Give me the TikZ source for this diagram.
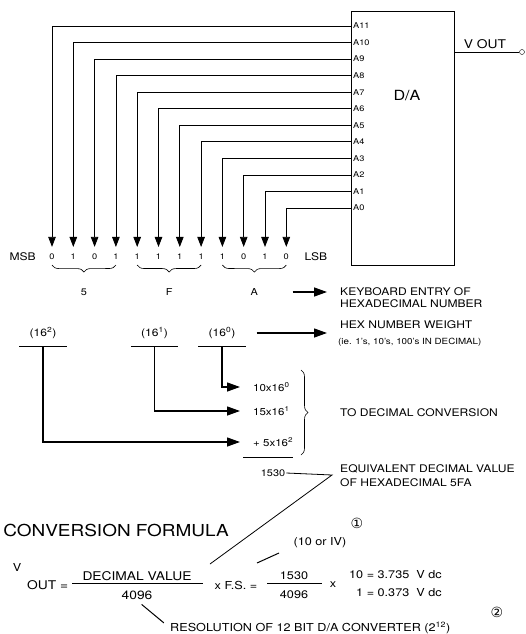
\documentclass[tikz,border=0pt]{standalone}
\usepackage{fontspec}
\setmainfont{TeX Gyre Heros}[FakeStretch=1.15]
\newfontfamily\circfont{DejaVu Sans}
\usetikzlibrary{arrows.meta, positioning, calc, decorations.pathreplacing}

\begin{document}
\begin{tikzpicture}[
    x=1pt, y=-1pt,
    font=\fontsize{10.5}{11.5}\selectfont,
    wire/.style={-{Triangle[length=10pt, width=7.5pt]}, line width=0.8pt, shorten >=6pt},
    arrow/.style={-{Triangle[length=13pt, width=9pt]}, line width=1.3pt},
    pinlbl/.style={anchor=west, inner sep=1pt, font=\fontsize{8}{9}\selectfont},
    bit/.style={inner sep=1pt, font=\fontsize{8}{9}\selectfont},
    txt/.style={anchor=west, inner sep=0pt, align=left},
    wt/.style={inner sep=0pt, minimum width=47pt, minimum height=26pt},
    term/.style={anchor=west, inner sep=0pt, font=\fontsize{10}{12}\selectfont},
    brc/.style={decorate, decoration={brace, amplitude=7pt}, line width=0.6pt},
    frm/.style={inner sep=1pt, font=\fontsize{11}{13}\selectfont},
    bar/.style={line width=0.9pt}
]
    \useasboundingbox (0,0) rectangle (526,634);

    \node[draw, line width=0.9pt, anchor=north west, minimum width=103pt, minimum height=254pt] (da) at (351,11) {};
    \node[font=\fontsize{14}{16}\selectfont] (dalbl) at (407,96) {D/A};
    \node[circle, draw, inner sep=0pt, minimum size=5pt] (vterm) at (522,52) {};
    \draw[line width=0.9pt] (da.east |- vterm) -- (vterm);
    \node[font=\fontsize{12}{14}\selectfont, inner sep=1pt] (vout) at (485,44) {V OUT};

    \foreach \i/\b in {11/0,10/1,9/0,8/1,7/1,6/1,5/1,4/1,3/1,2/0,1/1,0/0} {
        \pgfmathsetmacro{\xb}{52+(11-\i)*21.3}
        \pgfmathsetmacro{\yp}{26+(11-\i)*16.55}
        \node[bit] (b\i) at (\xb,257) {\b};
        \node[pinlbl] (a\i) at (352,\yp) {A\i};
        \draw[wire] (da.west |- a\i) -| (b\i.north);
    }

    \node[left=9pt of b11] (msb) {MSB};
    \node[right=11pt of b0] (lsb) {LSB};

    \draw[brc, decoration={mirror}] ([yshift=-4pt]b11.south) -- ([yshift=-4pt]b8.south);
    \draw[brc, decoration={mirror}] ([yshift=-4pt]b7.south) -- ([yshift=-4pt]b4.south);
    \draw[brc, decoration={mirror}] ([yshift=-4pt]b3.south) -- ([yshift=-4pt]b0.south);

    \node[font=\fontsize{9.5}{11}\selectfont] (h5) at ($(b11)!0.5!(b8)+(0,35)$) {5};
    \node[font=\fontsize{9.5}{11}\selectfont] (hF) at ($(b7)!0.5!(b4)+(0,35)$) {F};
    \node[font=\fontsize{9.5}{11}\selectfont] (hA) at ($(b3)!0.5!(b0)+(0,35)$) {A};

    \node[txt] (kbd) at (340,297.5) {KEYBOARD ENTRY OF\\HEXADECIMAL NUMBER};
    \draw[arrow, shorten <=31pt, shorten >=13pt] (hA) -- (hA -| kbd.west);

    \node[wt] (w2) at (43,333) {(16\textsuperscript{2})};
    \node[wt] (w1) at (154.5,333) {(16\textsuperscript{1})};
    \node[wt] (w0) at (222,333) {(16\textsuperscript{0})};
    \foreach \w in {w2,w1,w0} {
        \draw[line width=1pt] (\w.south west) -- (\w.south east);
    }

    \node[txt] (hexw) at (340,325) {HEX NUMBER WEIGHT};
    \node[txt, font=\fontsize{8.5}{10}\selectfont] (hexie) at (338,342) {(ie. 1's, 10's, 100's IN DECIMAL)};
    \draw[arrow, shorten <=11pt, shorten >=13pt] (w0.east) -- (w0.east -| hexw.west);

    \node[term] (t0) at (253,387) {10x16\textsuperscript{0}};
    \node[term] (t1) at (253,411) {15x16\textsuperscript{1}};
    \node[term] (t2) at (253,442) {+ 5x16\textsuperscript{2}};
    \draw[arrow, shorten >=13pt] (w0.south) |- (t0.west);
    \draw[arrow, shorten >=13pt] (w1.south) |- (t1.west);
    \draw[arrow, shorten >=13pt] (w2.south) |- (t2.west);
    \draw[line width=1pt] (t2.south west) ++(-10pt,-11pt) -- ++(50pt,0pt);

    \coordinate (bt) at (301,370);
    \coordinate (bb) at (301,455);
    \draw[brc] (bt) -- (bb);
    \node[txt] (todec) at (340,413) {TO DECIMAL CONVERSION};

    \node[font=\fontsize{9.5}{11}\selectfont, inner sep=1pt] (sum) at (273,473) {1530};
    \node[txt, font=\fontsize{10.5}{14}\selectfont] (equiv) at (340,476) {EQUIVALENT DECIMAL VALUE\\OF HEXADECIMAL 5FA};
    \coordinate (jn) at (332,475);
    \coordinate (dv) at (210,564);
    \draw[line width=0.8pt] (sum.east) -- (jn) -- (dv);

    \node[font=\fontsize{16.5}{18}\selectfont] (cf) at (116,530) {CONVERSION FORMULA};
    \node[font=\circfont\fontsize{14}{16}\selectfont] (c1) at (357,523) {①};
    \node[font=\circfont\fontsize{14}{16}\selectfont] (c2) at (497,612) {②};

    \node[frm] (vv) at (17,567) {V};
    \node[frm, anchor=west, font=\fontsize{12}{14}\selectfont] (vo) at (26,585) {OUT =};
    \node[frm, font=\fontsize{12}{14}\selectfont] (dec) at (137,576) {DECIMAL VALUE};
    \node[frm, font=\fontsize{12}{14}\selectfont] (den1) at (137,595) {4096};
    \draw[bar] (72,583) -- (203,583);
    \node[frm] (fsx) at (236,585) {x F.S. =};
    \node[frm] (num2) at (294,576) {1530};
    \node[frm] (den2) at (294,595) {4096};
    \draw[bar] (267,583) -- (322,583);
    \node[frm] (times) at (333,585) {x};
    \node[frm, anchor=west, font=\fontsize{11}{18}\selectfont] (res) at (348,584)
        {\begin{tabular}{@{}r@{ = }l@{\hspace{7pt}}l@{}}10 & 3.735 & V dc\\1 & 0.373 & V dc\end{tabular}};

    \node[frm] (fsv) at (320,543) {(10 or IV)};
    \coordinate (fs1) at (257,563);
    \coordinate (fs2) at (279,553);
    \draw[line width=1pt] (fs1) -- (fs2);

    \node[txt, font=\fontsize{11}{13}\selectfont] (resol) at (170,628) {RESOLUTION OF 12 BIT D/A CONVERTER (2\textsuperscript{12})};
    \draw[line width=1pt, shorten <=6pt, shorten >=8pt] (den1.south) -- (resol.west);
\end{tikzpicture}
\end{document}
